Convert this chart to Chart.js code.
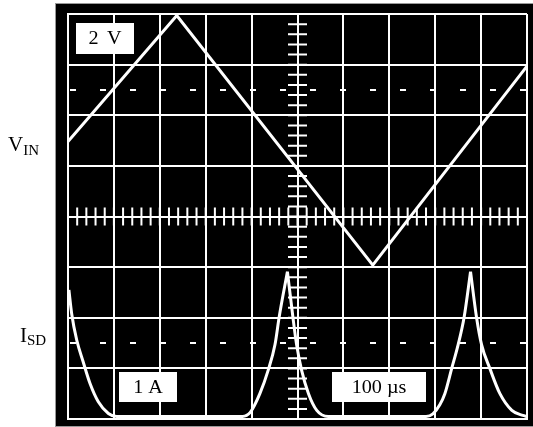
<!DOCTYPE html>
<html>
<head>
<meta charset="utf-8">
<script src="https://cdn.jsdelivr.net/npm/chart.js@4"></script>
<style>
  body { margin:0; background:#fff; }
  #wrap { width:533px; height:427px; }
</style>
</head>
<body>
<div id="wrap"><canvas id="scope" width="533" height="427"></canvas></div>
<script>
// screen is 10 x 8 divisions, values are in divisions
const vinX = [0, 2.37, 6.64, 10];
const vinY = [1.48, 3.97, -0.96, 2.97];

const isdX = [0.02, 0.08, 0.19, 0.33, 0.48, 0.66, 0.88, 1.06,
              3.80, 3.97, 4.18, 4.36, 4.51, 4.60, 4.78,
              4.90, 4.98, 5.09, 5.24, 5.42, 5.67,
              7.80, 7.95, 8.10, 8.21, 8.36, 8.50, 8.63, 8.77,
              8.90, 9.01, 9.19, 9.41, 9.67, 9.91, 10];
const isdY = [-1.45, -1.92, -2.44, -2.87, -3.30, -3.66, -3.89, -3.95,
              -3.95, -3.87, -3.50, -3.04, -2.53, -1.99, -1.09,
              -1.99, -2.53, -3.04, -3.50, -3.83, -3.95,
              -3.95, -3.90, -3.72, -3.50, -3.00, -2.53, -1.99, -1.09,
              -1.99, -2.53, -3.00, -3.50, -3.83, -3.93, -3.95];

const dashLevels = [2.5, -2.5];
const scaleLabels = ["2 V", "1 A", "100 µs"];

const serif = "'Liberation Serif', 'Times New Roman', serif";

function toPoints(xs, ys) {
    return xs.map((x, i) => ({x: x, y: ys[i]}));
}

// split the current trace at its peaks so every peak stays a sharp cusp
function splitAtPeaks(xs, ys) {
    const runs = [];
    let cur = [];
    for (let i = 0; i < xs.length; i++) {
        cur.push({x: xs[i], y: ys[i]});
        if (i > 0 && i < xs.length - 1 && ys[i] > ys[i - 1] && ys[i] > ys[i + 1]) {
            runs.push(cur);
            cur = [{x: xs[i], y: ys[i]}];
        }
    }
    runs.push(cur);
    return runs;
}

const scopePlugin = {
    id: 'scope',
    beforeDraw(chart) {
        const ctx = chart.ctx;
        ctx.save();
        ctx.fillStyle = '#000';
        ctx.fillRect(56, 4, 477, 422);
        ctx.strokeStyle = '#999';
        ctx.lineWidth = 1;
        ctx.strokeRect(55.5, 3.5, 478, 423);
        ctx.restore();
    },
    beforeDatasetsDraw(chart) {
        const ctx = chart.ctx;
        const xs = chart.scales.x, ys = chart.scales.y;
        const a = chart.chartArea;
        ctx.save();
        ctx.strokeStyle = '#fff';
        ctx.lineWidth = 2;
        // minor ticks on the centre axes
        const cx = xs.getPixelForValue(5), cy = ys.getPixelForValue(0);
        ctx.beginPath();
        for (let i = -19; i <= 19; i++) {
            const py = ys.getPixelForValue(i / 5);
            ctx.moveTo(cx - 9.5, py);
            ctx.lineTo(cx + 9.5, py);
        }
        for (let i = 1; i < 50; i++) {
            const px = xs.getPixelForValue(i / 5);
            ctx.moveTo(px, cy - 9);
            ctx.lineTo(px, cy + 9);
        }
        ctx.stroke();
        // dashed reference levels
        ctx.setLineDash([6, 24]);
        ctx.lineDashOffset = -2;
        dashLevels.forEach(v => {
            const py = ys.getPixelForValue(v);
            ctx.beginPath();
            ctx.moveTo(a.left, py);
            ctx.lineTo(a.right, py);
            ctx.stroke();
        });
        ctx.restore();
    },
    afterDraw(chart) {
        const ctx = chart.ctx;
        ctx.save();
        // scale boxes
        const boxes = [[76, 23, 58, 31], [119, 372, 58, 30], [332, 372, 94, 30]];
        ctx.textAlign = 'center';
        ctx.textBaseline = 'alphabetic';
        ctx.font = '18px ' + serif;
        boxes.forEach((b, i) => {
            ctx.fillStyle = '#fff';
            ctx.fillRect(b[0], b[1], b[2], b[3]);
            ctx.fillStyle = '#000';
            ctx.save();
            ctx.wordSpacing = i === 0 ? '3px' : '0px';
            ctx.translate(b[0] + b[2] / 2, b[1] + 21);
            ctx.scale(1.12, 1);
            ctx.fillText(scaleLabels[i], 0, 0);
            ctx.restore();
        });
        // trace names
        ctx.textAlign = 'left';
        ctx.fillStyle = '#000';
        ctx.font = '21px ' + serif;
        ctx.fillText('V', 8, 151);
        let w = ctx.measureText('V').width;
        ctx.font = '15px ' + serif;
        ctx.fillText('IN', 8 + w, 155);
        ctx.font = '21px ' + serif;
        ctx.fillText('I', 20, 342);
        w = ctx.measureText('I').width;
        ctx.font = '15px ' + serif;
        ctx.fillText('SD', 20 + w, 345);
        ctx.restore();
    }
};

const isdSets = splitAtPeaks(isdX, isdY).map(run => ({
    label: 'ISD',
    data: run,
    borderColor: '#fff',
    borderWidth: 3,
    pointRadius: 0,
    cubicInterpolationMode: 'monotone',
    borderJoinStyle: 'round'
}));

new Chart(document.getElementById('scope'), {
    type: 'line',
    data: {
        datasets: [
            {
                label: 'VIN',
                data: toPoints(vinX, vinY),
                borderColor: '#fff',
                borderWidth: 3,
                pointRadius: 0,
                tension: 0
            }
        ].concat(isdSets)
    },
    options: {
        responsive: false,
        animation: false,
        layout: { padding: { left: 68, top: 14, right: 6, bottom: 8 } },
        plugins: { legend: { display: false }, tooltip: { enabled: false } },
        scales: {
            x: {
                type: 'linear', min: 0, max: 10,
                ticks: { display: false, stepSize: 1 },
                grid: { color: '#fff', lineWidth: 2, drawTicks: false },
                border: { color: '#fff', width: 2 }
            },
            y: {
                type: 'linear', min: -4, max: 4,
                ticks: { display: false, stepSize: 1 },
                grid: { color: '#fff', lineWidth: 2, drawTicks: false },
                border: { color: '#fff', width: 2 }
            }
        }
    },
    plugins: [scopePlugin]
});
</script>
</body>
</html>
